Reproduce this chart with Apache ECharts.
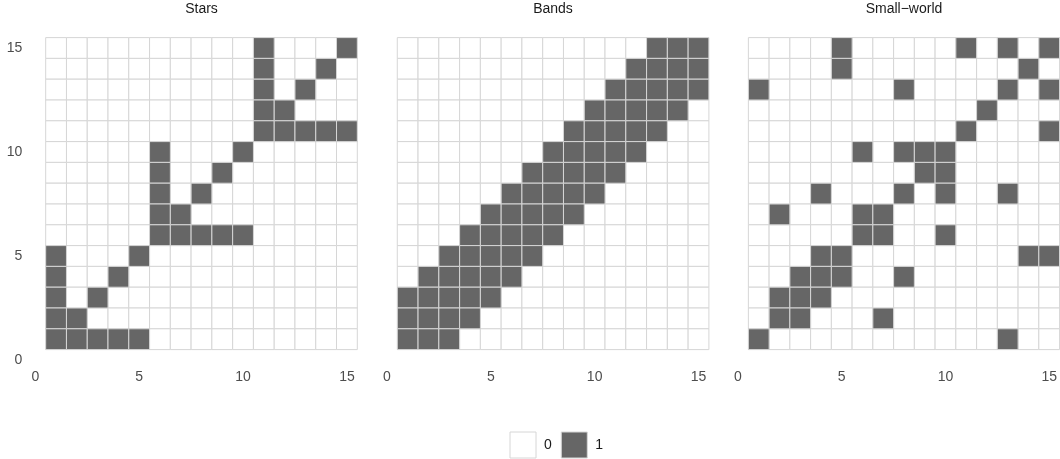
<!DOCTYPE html>
<html>
<head>
<meta charset="utf-8">
<script src="https://cdn.jsdelivr.net/npm/echarts@6/dist/echarts.min.js"></script>
<style>
html,body{margin:0;padding:0;background:#fff;}
#chart{width:1060px;height:459px;}
</style>
</head>
<body>
<div id="chart"></div>
<script>
// Panel titles
const panelTitles = ['Stars', 'Bands', 'Small\u2212world'];
// Axis ticks
const tickValues = [0, 5, 10, 15];
// Legend categories
const legendLabels = ['0', '1'];

// Adjacency matrices: rows listed from y = 15 (top) down to y = 1, columns x = 1..15
const starsRows = [
  [0,0,0,0,0,0,0,0,0,0,1,0,0,0,1],
  [0,0,0,0,0,0,0,0,0,0,1,0,0,1,0],
  [0,0,0,0,0,0,0,0,0,0,1,0,1,0,0],
  [0,0,0,0,0,0,0,0,0,0,1,1,0,0,0],
  [0,0,0,0,0,0,0,0,0,0,1,1,1,1,1],
  [0,0,0,0,0,1,0,0,0,1,0,0,0,0,0],
  [0,0,0,0,0,1,0,0,1,0,0,0,0,0,0],
  [0,0,0,0,0,1,0,1,0,0,0,0,0,0,0],
  [0,0,0,0,0,1,1,0,0,0,0,0,0,0,0],
  [0,0,0,0,0,1,1,1,1,1,0,0,0,0,0],
  [1,0,0,0,1,0,0,0,0,0,0,0,0,0,0],
  [1,0,0,1,0,0,0,0,0,0,0,0,0,0,0],
  [1,0,1,0,0,0,0,0,0,0,0,0,0,0,0],
  [1,1,0,0,0,0,0,0,0,0,0,0,0,0,0],
  [1,1,1,1,1,0,0,0,0,0,0,0,0,0,0]
];
const bandsRows = [
  [0,0,0,0,0,0,0,0,0,0,0,0,1,1,1],
  [0,0,0,0,0,0,0,0,0,0,0,1,1,1,1],
  [0,0,0,0,0,0,0,0,0,0,1,1,1,1,1],
  [0,0,0,0,0,0,0,0,0,1,1,1,1,1,0],
  [0,0,0,0,0,0,0,0,1,1,1,1,1,0,0],
  [0,0,0,0,0,0,0,1,1,1,1,1,0,0,0],
  [0,0,0,0,0,0,1,1,1,1,1,0,0,0,0],
  [0,0,0,0,0,1,1,1,1,1,0,0,0,0,0],
  [0,0,0,0,1,1,1,1,1,0,0,0,0,0,0],
  [0,0,0,1,1,1,1,1,0,0,0,0,0,0,0],
  [0,0,1,1,1,1,1,0,0,0,0,0,0,0,0],
  [0,1,1,1,1,1,0,0,0,0,0,0,0,0,0],
  [1,1,1,1,1,0,0,0,0,0,0,0,0,0,0],
  [1,1,1,1,0,0,0,0,0,0,0,0,0,0,0],
  [1,1,1,0,0,0,0,0,0,0,0,0,0,0,0]
];
const smallWorldRows = [
  [0,0,0,0,1,0,0,0,0,0,1,0,1,0,1],
  [0,0,0,0,1,0,0,0,0,0,0,0,0,1,0],
  [1,0,0,0,0,0,0,1,0,0,0,0,1,0,1],
  [0,0,0,0,0,0,0,0,0,0,0,1,0,0,0],
  [0,0,0,0,0,0,0,0,0,0,1,0,0,0,1],
  [0,0,0,0,0,1,0,1,1,1,0,0,0,0,0],
  [0,0,0,0,0,0,0,0,1,1,0,0,0,0,0],
  [0,0,0,1,0,0,0,1,0,1,0,0,1,0,0],
  [0,1,0,0,0,1,1,0,0,0,0,0,0,0,0],
  [0,0,0,0,0,1,1,0,0,1,0,0,0,0,0],
  [0,0,0,1,1,0,0,0,0,0,0,0,0,1,1],
  [0,0,1,1,1,0,0,1,0,0,0,0,0,0,0],
  [0,1,1,1,0,0,0,0,0,0,0,0,0,0,0],
  [0,1,1,0,0,0,1,0,0,0,0,0,0,0,0],
  [1,0,0,0,0,0,0,0,0,0,0,0,1,0,0]
];

const matrices = [starsRows, bandsRows, smallWorldRows];
const FONT = '"Liberation Sans", Arial, Helvetica, sans-serif';
const fillColors = {'0': '#ffffff', '1': '#666666'};
const gridLineColor = '#d6d6d6';

function cellsFor(rows, v) {
  const out = [];
  const n = rows.length;
  rows.forEach((row, r) => {
    const y = n - r;
    row.forEach((val, c) => {
      if (val === v) out.push([c + 1, y, val]);
    });
  });
  return out;
}

function renderCell(params, api) {
  const x = api.value(0), y = api.value(1);
  const p = api.coord([x - 0.5, y + 0.5]);
  const s = api.size([1, 1]);
  return {
    type: 'rect',
    shape: {x: p[0], y: p[1], width: s[0], height: s[1]},
    style: {fill: api.visual('color'), stroke: gridLineColor, lineWidth: 1}
  };
}

const gridLefts = [35.3, 386.9, 738];
const grids = gridLefts.map(l => ({left: l, top: 37.6, width: 322, height: 322.4, containLabel: false}));

const xAxes = gridLefts.map((l, i) => ({
  type: 'value', gridIndex: i, min: 0, max: 15.5, interval: 5,
  axisLine: {show: false}, axisTick: {show: false}, splitLine: {show: false},
  axisLabel: {show: true, showMaxLabel: false, color: '#4d4d4d', fontSize: 14, fontFamily: FONT, margin: 10}
}));
const yAxes = gridLefts.map((l, i) => ({
  type: 'value', gridIndex: i, min: 0, max: 15.5, interval: 5,
  axisLine: {show: false}, axisTick: {show: false}, splitLine: {show: false},
  axisLabel: {show: i === 0, showMaxLabel: false, color: '#4d4d4d', fontSize: 14, fontFamily: FONT, margin: 13}
}));

const series = [];
matrices.forEach((m, i) => {
  legendLabels.forEach(lab => {
    series.push({
      type: 'custom', name: lab, xAxisIndex: i, yAxisIndex: i,
      renderItem: renderCell,
      itemStyle: {color: fillColors[lab]},
      encode: {x: 0, y: 1},
      data: cellsFor(m, Number(lab)),
      animation: false, silent: true
    });
  });
});

const titleCenters = [201.5, 553, 904];
const titles = panelTitles.map((t, i) => ({
  text: t, left: titleCenters[i], top: 2, textAlign: 'center', padding: 0,
  textStyle: {fontSize: 14, fontWeight: 'normal', color: '#1a1a1a', fontFamily: FONT}
}));

const option = {
  backgroundColor: '#ffffff',
  animation: false,
  title: titles,
  grid: grids,
  xAxis: xAxes,
  yAxis: yAxes,
  legend: {
    left: 509.5, top: 431.5, padding: 0, itemWidth: 26, itemHeight: 26, itemGap: 9,
    selectedMode: false,
    textStyle: {fontSize: 14, color: '#1a1a1a', fontFamily: FONT, padding: [0, 0, 0, 3]},
    data: legendLabels.map(lab => ({
      name: lab, icon: 'rect',
      itemStyle: {color: fillColors[lab], borderColor: gridLineColor, borderWidth: 1}
    }))
  },
  series: series
};

const chart = echarts.init(document.getElementById('chart'), null, {renderer: 'canvas'});
chart.setOption(option);
</script>
</body>
</html>
